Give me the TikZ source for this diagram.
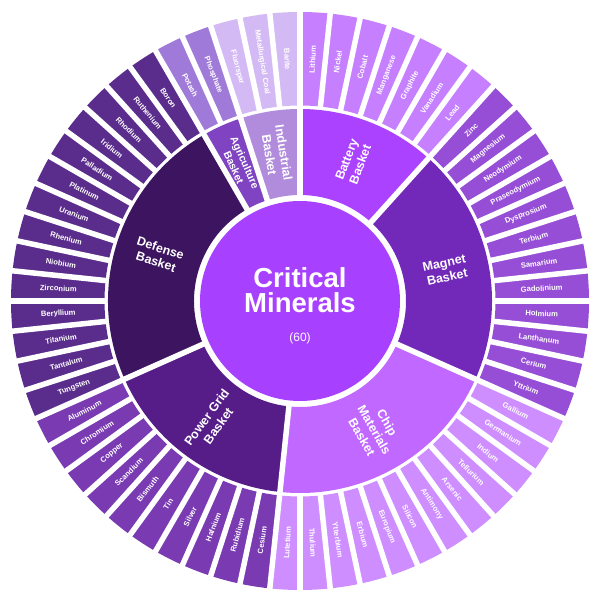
\documentclass[tikz,border=0pt]{standalone}
\usepackage{fontspec}
\setmainfont{Liberation Sans}
\definecolor{cCenter}{RGB}{168,64,255}
\definecolor{cBatB}{RGB}{170,66,255}
\definecolor{cBatL}{RGB}{198,128,255}
\definecolor{cMagB}{RGB}{114,40,184}
\definecolor{cMagL}{RGB}{150,78,214}
\definecolor{cChipB}{RGB}{192,104,255}
\definecolor{cChipL}{RGB}{206,142,255}
\definecolor{cPowB}{RGB}{86,28,136}
\definecolor{cPowL}{RGB}{121,58,178}
\definecolor{cDefB}{RGB}{60,20,96}
\definecolor{cDefL}{RGB}{90,45,140}
\definecolor{cAgrB}{RGB}{128,68,194}
\definecolor{cAgrL}{RGB}{160,122,216}
\definecolor{cIndB}{RGB}{178,140,220}
\definecolor{cIndL}{RGB}{212,186,245}
\tikzset{
  leaflabel/.style={text=white, font=\bfseries\fontsize{7.6}{9}\selectfont, inner sep=0pt},
  basketlabel/.style={text=white, font=\bfseries\fontsize{12.5}{14.5}\selectfont, align=center, inner sep=0pt},
  smallbasket/.style={font=\bfseries\fontsize{10.5}{12}\selectfont},
  gapline/.style={white, line width=5.5pt},
  centertitle/.style={text=white, font=\bfseries\fontsize{27.5}{30}\selectfont, inner sep=0pt, anchor=base},
  centercount/.style={text=white, font=\fontsize{12}{14}\selectfont, inner sep=0pt, anchor=base}
}
\newcommand\leafring[3]{%
  \foreach \nm [count=\j from #1] in {#3} {%
    \pgfmathsetmacro\angA{90-6*\j}%
    \pgfmathsetmacro\angB{90-6*\j-6}%
    \pgfmathsetmacro\angM{90-6*\j-3}%
    \pgfmathsetmacro\rotL{\angM<-90 ? \angM+180 : \angM}%
    \fill[#2] (\angA:195.5) arc[start angle=\angA,end angle=\angB,radius=195.5]
      -- (\angB:289) arc[start angle=\angB,end angle=\angA,radius=289] -- cycle;
    \node[leaflabel,rotate=\rotL] (leaf\j) at (\angM:242) {\nm};
  }%
}
\newcommand\basketseg[6]{%
  \fill[#3] (#1:106) arc[start angle=#1,end angle=#2,radius=106]
    -- (#2:192) arc[start angle=#2,end angle=#1,radius=192] -- cycle;
  \pgfmathsetmacro\angM{(#1+#2)/2}%
  \pgfmathsetmacro\rotL{\angM<-90 ? \angM+180 : \angM}%
  \node[basketlabel,#6,rotate=\rotL] (#4) at (\angM:149) {#5};
}
\begin{document}
\begin{tikzpicture}[x=1pt,y=1pt]
\useasboundingbox (0,0) rectangle (600,602);
\fill[white] (0,0) rectangle (600,602);
\begin{scope}[shift={(300,301)}]
  % outer ring
  \leafring{0}{cBatL}{Lithium,Nickel,Cobalt,Manganese,Graphite,Vanadium,Lead}
  \leafring{7}{cMagL}{Zinc,Magnesium,Neodymium,Praseodymium,Dysprosium,Terbium,Samarium,Gadolinium,Holmium,Lanthanum,Cerium,Yttrium}
  \leafring{19}{cChipL}{Gallium,Germanium,Indium,Tellurium,Arsenic,Antimony,Silicon,Europium,Erbium,Ytterbium,Thulium,Lutetium}
  \leafring{31}{cPowL}{Cesium,Rubidium,Hafnium,Silver,Tin,Bismuth,Scandium,Copper,Chromium,Aluminum}
  \leafring{41}{cDefL}{Tungsten,Tantalum,Titanium,Beryllium,Zirconium,Niobium,Rhenium,Uranium,Platinum,Palladium,Iridium,Rhodium,Ruthenium,Boron}
  \leafring{55}{cAgrL}{Potash,Phosphate}
  \leafring{57}{cIndL}{Fluorspar,Metallurgical Coal,Barite}
  % middle ring
  \basketseg{90}{48}{cBatB}{battery}{Battery\\Basket}{}
  \basketseg{48}{-24}{cMagB}{magnet}{Magnet\\Basket}{}
  \basketseg{-24}{-96}{cChipB}{chip}{Chip\\Materials\\Basket}{}
  \basketseg{-96}{-156}{cPowB}{power}{Power Grid\\Basket}{}
  \basketseg{-156}{-240}{cDefB}{defense}{Defense\\Basket}{}
  \basketseg{-240}{-252}{cAgrB}{agri}{Agriculture\\Basket}{smallbasket}
  \basketseg{-252}{-270}{cIndB}{industrial}{Industrial\\Basket}{}
  % white gaps
  \foreach \k in {0,...,59} {
    \draw[gapline] ({90-6*\k}:193) -- ({90-6*\k}:293);
  }
  \foreach \a in {90,48,-24,-96,-156,120,108} {
    \draw[gapline] (\a:103) -- (\a:194);
  }
  % center
  \fill[cCenter] (0,0) circle[radius=100];
  \node[centertitle] (crit) at (0,13) {Critical};
  \node[centertitle] (minerals) at (0,-12) {Minerals};
  \node[centercount] (count) at (0,-41) {(60)};
\end{scope}
\end{tikzpicture}
\end{document}
